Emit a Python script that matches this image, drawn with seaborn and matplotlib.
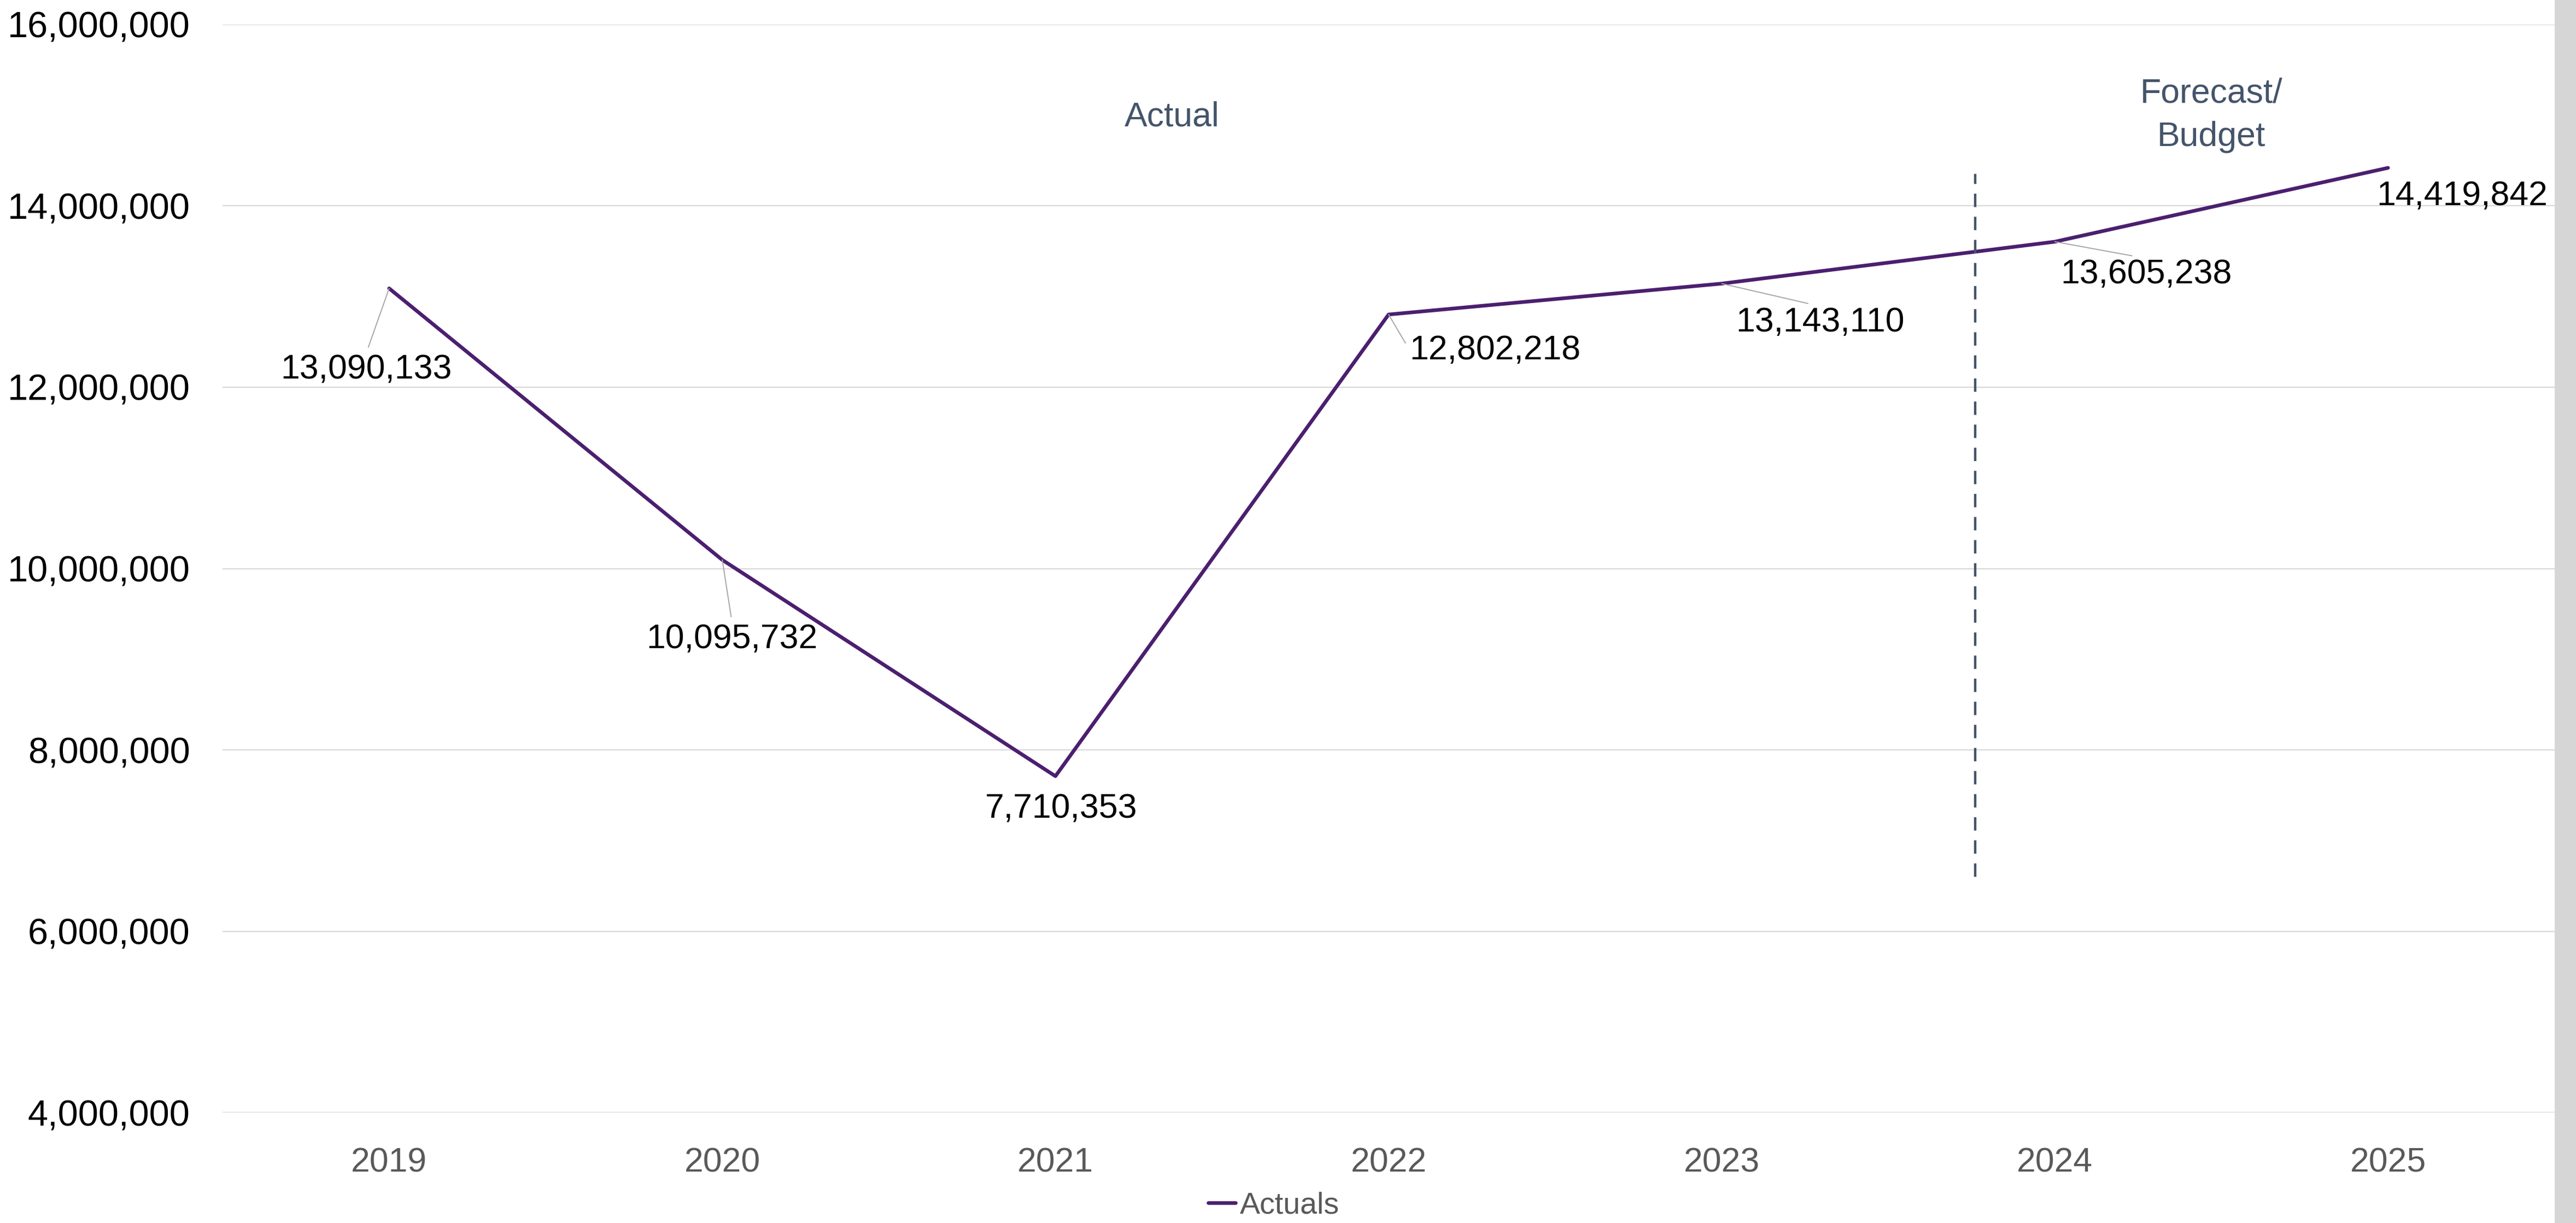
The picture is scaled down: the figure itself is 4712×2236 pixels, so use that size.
import pandas as pd
import matplotlib.pyplot as plt
import seaborn as sns
from matplotlib.ticker import FuncFormatter
from matplotlib.patches import Rectangle

sns.set_theme(style="whitegrid")
plt.rcParams['font.family'] = ['Liberation Sans', 'DejaVu Sans']

# data
years = ['2019', '2020', '2021', '2022', '2023', '2024', '2025']
actuals = [13090133, 10095732, 7710353, 12802218, 13143110, 13605238, 14419842]

# label offsets (pixels from the point) and leader anchor on the text
label_offsets = [(-42, -148), (18, -145), (10, -59), (195, -65), (180, -71), (167, -60), (135, -52)]
leader_relpos = [(0.5, 1), (0.5, 1), None, (0, 0.5), (0.5, 1), (0.5, 1), None]

divider_x = 4.76
divider_span = (6.6e6, 14.35e6)

purple = '#4b1f6f'
slate = '#44546a'
grey_text = '#595959'

df = pd.DataFrame({'Year': years, 'Actuals': actuals})

fig = plt.figure(figsize=(47.12, 22.36), dpi=100, facecolor='white')
ax = fig.add_axes([0.0864, 0.0903, 0.9053, 0.8896])

sns.lineplot(data=df, x='Year', y='Actuals', label='Actuals', ax=ax, sort=False)
for ln in ax.lines:
    ln.set_color(purple)
    ln.set_linewidth(4.8)
    ln.set_solid_capstyle('round')

ax.set_xlim(-0.5, 6.5)
ax.set_ylim(4e6, 16e6)
ax.set_yticks(range(4000000, 16000001, 2000000))
ax.yaxis.set_major_formatter(FuncFormatter(lambda v, p: f'{int(v):,}'))
ax.grid(axis='y', color='#d9d9d9', linewidth=1.6)
ax.grid(axis='x', visible=False)
for s in ax.spines.values():
    s.set_visible(False)
ax.set_xlabel('')
ax.set_ylabel('')
ax.tick_params(axis='y', length=0, pad=43, labelsize=48, labelcolor='black')
ax.tick_params(axis='x', length=0, pad=45, labelsize=45, labelcolor=grey_text)

# data labels with leader lines
for i, (v, off, rp) in enumerate(zip(actuals, label_offsets, leader_relpos)):
    arrow = None
    if rp is not None:
        arrow = dict(arrowstyle='-', color='#a6a6a6', linewidth=1.4,
                     relpos=rp, shrinkA=6, shrinkB=0)
    ax.annotate(f'{v:,}', xy=(i, v), xytext=off, textcoords='offset pixels',
                ha='center', va='center', fontsize=45, color='black',
                arrowprops=arrow)

# actual / forecast divider
ax.vlines(divider_x, *divider_span, colors=slate, linestyles=(0, (5.5, 4)), linewidth=3.2)
ax.text(2.35, 14.98e6, 'Actual', ha='center', va='center', fontsize=45, color=slate)
ax.text(5.47, 15.0e6, 'Forecast/\nBudget', ha='center', va='center', fontsize=45,
        color=slate, linespacing=1.45)

ax.get_legend().remove()
handles, labels = ax.get_legend_handles_labels()
fig.legend(handles, labels, loc='center', bbox_to_anchor=(0.4945, 0.0139),
           frameon=False, fontsize=40, labelcolor=grey_text,
           handlelength=0.9, handletextpad=0.15)

# grey strip at the right edge of the screenshot
fig.patches.append(Rectangle((0.9917, 0), 0.0083, 1, transform=fig.transFigure,
                             facecolor='#d6d6d6', edgecolor='none', zorder=0))

fig.savefig('out.png', dpi=100, facecolor='white')
